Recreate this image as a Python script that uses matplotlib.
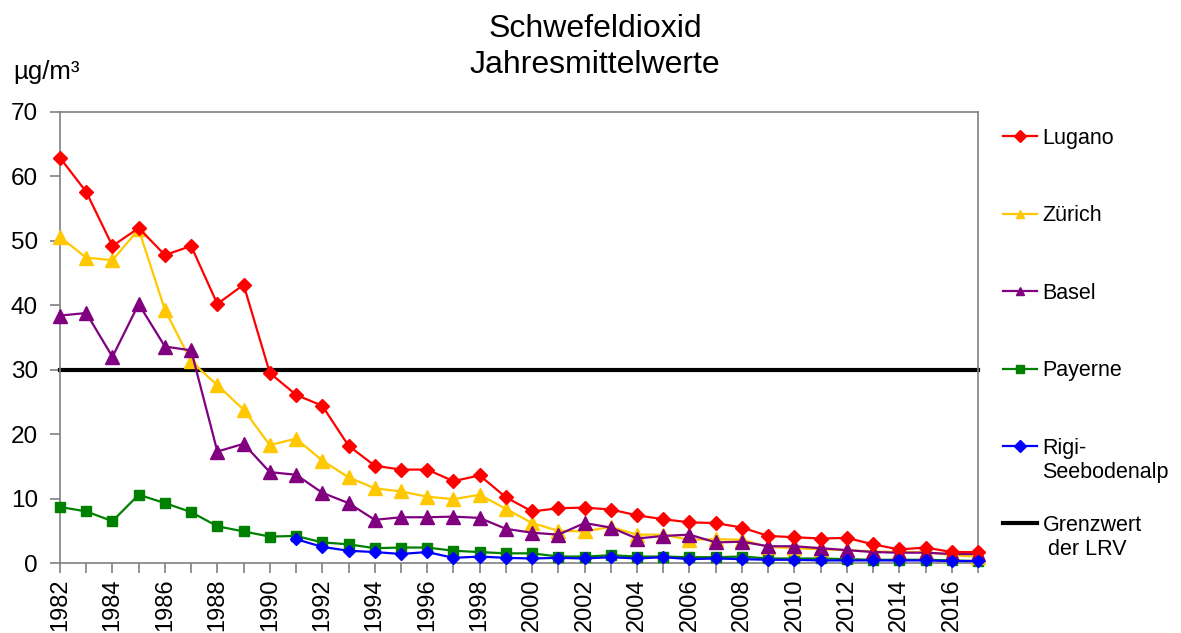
import numpy as np
import matplotlib
matplotlib.use("Agg")
import matplotlib.pyplot as plt
from matplotlib.ticker import MultipleLocator

plt.rcParams['font.family'] = ['Liberation Sans', 'DejaVu Sans']

years = list(range(1982, 2018))

lugano = [62.9, 57.6, 49.2, 52.0, 47.8, 49.2, 40.2, 43.2, 29.5, 26.1,
          24.4, 18.2, 15.1, 14.5, 14.5, 12.7, 13.6, 10.2, 8.0, 8.5,
          8.6, 8.3, 7.4, 6.8, 6.3, 6.2, 5.5, 4.2, 4.0, 3.8,
          3.9, 2.9, 2.1, 2.4, 1.7, 1.7]

zuerich = [50.6, 47.4, 47.0, 51.8, 39.3, 31.3, 27.6, 23.8, 18.3, 19.3,
           15.9, 13.3, 11.6, 11.1, 10.3, 9.9, 10.6, 8.4, 6.2, 5.0,
           4.9, 5.6, 4.4, 4.4, 3.6, 3.7, 3.6, 2.5, 2.3, 2.1,
           2.0, 1.8, 1.7, 1.7, 1.2, 1.0]

basel = [38.4, 38.8, 32.0, 40.2, 33.6, 33.0, 17.3, 18.5, 14.1, 13.7,
         10.9, 9.3, 6.7, 7.1, 7.1, 7.2, 7.0, 5.3, 4.7, 4.4,
         6.2, 5.5, 3.8, 4.2, 4.4, 3.2, 3.3, 2.6, 2.6, 2.3,
         2.0, 1.7, 1.6, 1.6, 1.4, 1.4]

payerne = [8.7, 8.0, 6.5, 10.6, 9.3, 7.9, 5.7, 4.9, 4.1, 4.2,
           3.2, 2.9, 2.3, 2.4, 2.4, 1.9, 1.7, 1.5, 1.5, 1.0,
           1.0, 1.2, 1.0, 1.0, 0.9, 0.9, 1.0, 0.7, 0.7, 0.7,
           0.6, 0.5, 0.5, 0.5, 0.4, 0.3]

rigi_years = list(range(1991, 2018))
rigi = [3.7, 2.5, 1.9, 1.7, 1.4, 1.7, 0.8, 1.0, 0.8, 0.7,
        0.8, 0.7, 0.9, 0.7, 0.9, 0.6, 0.7, 0.6, 0.5, 0.5,
        0.4, 0.4, 0.4, 0.4, 0.4, 0.3, 0.3]

grenzwert = 30

# legend entries: first line in the legend, second line written underneath
labels = ['Lugano', 'Zürich', 'Basel', 'Payerne', 'Rigi-', 'Grenzwert']
second_lines = {4: 'Seebodenalp', 5: ' der LRV'}

W, H = 1181, 633
fig = plt.figure(figsize=(W / 100, H / 100), dpi=100)
ax = fig.add_axes([60 / W, 1 - 563 / H, (978 - 60) / W, (563 - 112) / H])

ax.plot(years, lugano, color='#ff0000', lw=1.6, marker='D', ms=7.5, label=labels[0], zorder=5)
ax.plot(years, zuerich, color='#ffc800', lw=1.6, marker='^', ms=9.5, label=labels[1], zorder=4)
ax.plot(years, basel, color='#800080', lw=1.6, marker='^', ms=9.5, label=labels[2], zorder=4)
ax.plot(years, payerne, color='#008000', lw=1.6, marker='s', ms=6.5, label=labels[3], zorder=3)
ax.plot(rigi_years, rigi, color='#0000ff', lw=1.6, marker='D', ms=6, label=labels[4], zorder=6)
ax.axhline(grenzwert, color='black', lw=3, label=labels[5], zorder=2)

ax.set_xlim(1982, 2017)
ax.set_ylim(0, 70)
ax.yaxis.set_major_locator(MultipleLocator(10))
ax.xaxis.set_major_locator(MultipleLocator(2))
ax.xaxis.set_minor_locator(MultipleLocator(1))

for side in ['top', 'right', 'left', 'bottom']:
    ax.spines[side].set_color('#808080')
    ax.spines[side].set_linewidth(1.2)

ax.tick_params(axis='y', direction='out', length=7, width=1.2, color='#808080',
               labelsize=17.5, pad=9)
ax.tick_params(axis='x', which='both', direction='out', length=7, width=1.2,
               color='#808080', labelsize=17, labelrotation=90, pad=4)
for line in ax.get_lines():
    line.set_clip_on(False)

fig.text(595 / W, 1 - 37 / H, 'Schwefeldioxid', ha='center', va='baseline', fontsize=23)
fig.text(595 / W, 1 - 73 / H, 'Jahresmittelwerte', ha='center', va='baseline', fontsize=23)
fig.text(13 / W, 1 - 79 / H, 'µg/m³', ha='left', va='baseline', fontsize=18.5)

leg = fig.legend(loc='upper left', bbox_to_anchor=(1003 / W, 1 - 128 / H),
                 frameon=False, fontsize=15.5, handlelength=1.58, handletextpad=0.25,
                 labelspacing=2.62, borderaxespad=0, borderpad=0)
for h in leg.legend_handles:
    h.set_markersize(6)

# second lines go below their legend labels; drawn after the legend is laid out
texts = leg.get_texts()
for i, s in second_lines.items():
    ann = plt.Annotation(s, xy=(0, 0.5), xycoords=texts[i],
                         xytext=(0, -24), textcoords='offset pixels',
                         ha='left', va='center', fontsize=15.5)
    ann.set_zorder(leg.get_zorder() + 1)
    fig.add_artist(ann)

fig.savefig('out.png', dpi=100)
